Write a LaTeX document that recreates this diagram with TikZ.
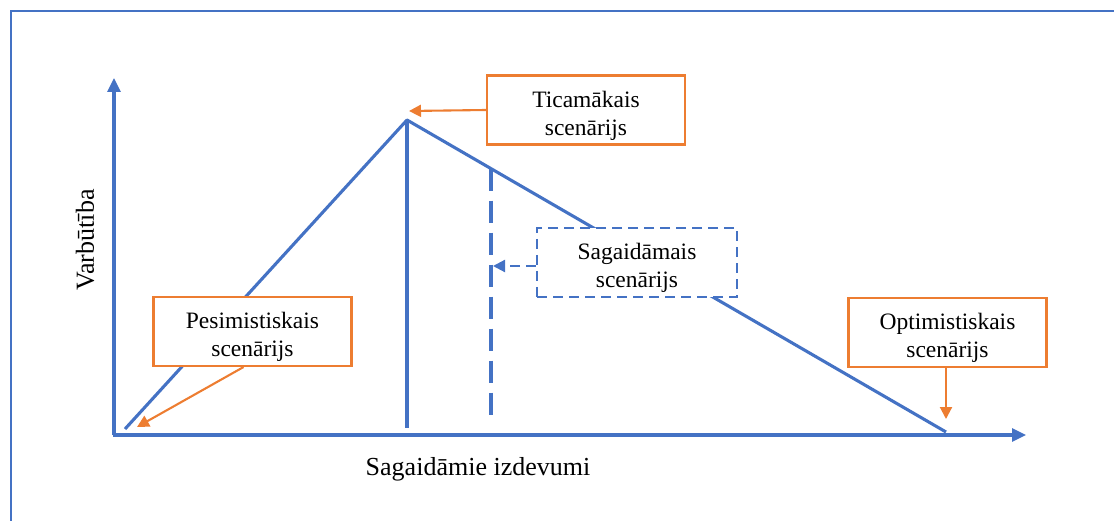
\documentclass[tikz,border=0pt]{standalone}
\usepackage{fontspec}
\setmainfont{Liberation Serif}
\usetikzlibrary{arrows.meta}
\definecolor{cblue}{HTML}{4472C4}
\definecolor{corange}{HTML}{ED7D31}
% taller first line so the two text lines sit a little lower in their box
\newcommand\boxstrut{\rule{0pt}{28pt}}
\begin{document}
\begin{tikzpicture}[x=1pt,y=-1pt,
  bline/.style={cblue,line width=3.1pt},
  axis/.style={cblue,line width=3.1pt,-{Triangle[length=14pt,width=13pt]}},
  boxtext/.style={align=center,inner sep=0pt,font=\fontsize{23.5}{28}\selectfont},
  obox/.style={boxtext,draw=corange,line width=2.1pt,fill=white,minimum width=198pt,minimum height=69pt},
  dbox/.style={boxtext,draw=cblue,line width=2.1pt,dash pattern=on 10pt off 6pt,fill=white,minimum width=200pt,minimum height=69pt},
  oarrow/.style={corange,line width=2.1pt,-{Triangle[length=12pt,width=12pt]}},
  axlabel/.style={font=\fontsize{26}{30}\selectfont,inner sep=0pt}
]
\useasboundingbox (0,0) rectangle (1114,521);
% outer frame (top and left edges)
\draw[cblue,line width=2.8pt] (11,521) -- (11,11) -- (1114,11);

% axes
\coordinate (O) at (114,435);
\coordinate (ytip) at (114,78);
\coordinate (xtip) at (1026,435);
\draw[axis] (O) -- (ytip);
\draw[axis] ([xshift=-1.5pt]O) -- (xtip);

% distribution triangle
\coordinate (A) at (125,429);
\coordinate (P) at (407,120);
\coordinate (B) at (946,432);
\coordinate (Pfoot) at (407,428);
\coordinate (Etop) at (491,168.6);
\coordinate (Efoot) at (491,420);
\draw[bline,line join=round] (A) -- (P) -- (B);
\draw[bline] (P) -- (Pfoot);
\draw[bline,dash pattern=on 22pt off 10pt] (Etop) -- (Efoot);

% boxes
\node[obox] (tic) at (586,110) {\boxstrut Ticamākais\\scenārijs};
\node[dbox] (sag) at (637,262.5) {\boxstrut Sagaidāmais\\scenārijs};
\node[obox] (pes) at (252.5,331.5) {\boxstrut Pesimistiskais\\scenārijs};
\node[obox] (opt) at (947.5,332.5) {\boxstrut Optimistiskais\\scenārijs};

% pointers
\coordinate (ticend) at (409,111);
\coordinate (sagend) at (493,266);
\coordinate (pesend) at (137,427);
\coordinate (optend) at (946,419);
\draw[oarrow] (tic.west) -- (ticend);
\draw[cblue,line width=2.1pt,dash pattern=on 10pt off 6pt,-{Triangle[length=12pt,width=12pt]}] (sag.west |- sagend) -- (sagend);
\draw[oarrow] ([xshift=-9pt]pes.south) -- (pesend);
\draw[oarrow] (opt.south -| optend) -- (optend);

% axis labels
\node[axlabel,rotate=90] (ylab) at (85,240) {Varbūtība};
\node[axlabel] (xlab) at (478,469) {Sagaidāmie izdevumi};
\end{tikzpicture}
\end{document}
